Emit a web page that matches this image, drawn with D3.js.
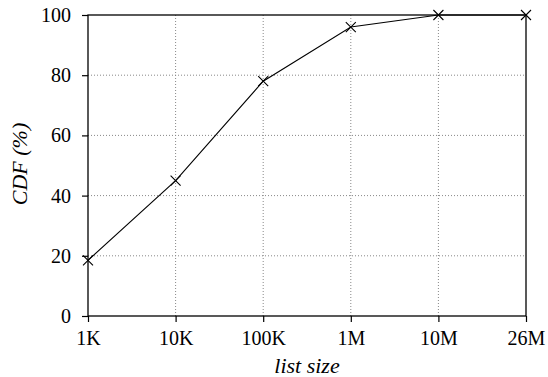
<!DOCTYPE html>
<html><head><meta charset="utf-8">
<script src="https://cdn.jsdelivr.net/npm/d3@7"></script>
<style>body{margin:0;background:#fff}svg{display:block}text{font-family:"Liberation Serif","Times New Roman",serif;fill:#000}</style>
</head><body><svg id="c" width="548" height="377"></svg>
<script>
const categories = ["1K","10K","100K","1M","10M","26M"];
const cdfValues = [18.5, 45, 78, 96, 100, 100];
const yTicks = [0,20,40,60,80,100];

const svg = d3.select("#c");
const m = {l:88, r:22, t:15, b:61};
const W = 548, H = 377;
const x = d3.scalePoint().domain(categories).range([m.l, W-m.r]);
const y = d3.scaleLinear().domain([0,100]).range([H-m.b, m.t]);

// grid
const g = svg.append("g");
g.selectAll("line.vg").data(categories.slice(1,-1)).join("line")
 .attr("x1",d=>x(d)).attr("x2",d=>x(d)).attr("y1",y(0)).attr("y2",y(100))
 .attr("stroke","#888").attr("stroke-width",1).attr("stroke-dasharray","1,2");
g.selectAll("line.hg").data(yTicks.slice(1,-1)).join("line")
 .attr("x1",x(categories[0])).attr("x2",x(categories[categories.length-1])).attr("y1",d=>y(d)).attr("y2",d=>y(d))
 .attr("stroke","#888").attr("stroke-width",1).attr("stroke-dasharray","1,2");

// frame
svg.append("rect").attr("x",m.l).attr("y",m.t).attr("width",W-m.r-m.l).attr("height",H-m.b-m.t)
 .attr("fill","none").attr("stroke","#000").attr("stroke-width",1.3);

// axes
const xa = svg.append("g").attr("transform",`translate(0,${H-m.b})`)
 .call(d3.axisBottom(x).tickSize(6).tickPadding(9));
const ya = svg.append("g").attr("transform",`translate(${m.l},0)`)
 .call(d3.axisLeft(y).tickValues(yTicks).tickSize(6).tickPadding(11));
[xa,ya].forEach(a=>{a.attr("font-family",null);a.select(".domain").remove();a.selectAll("line").attr("stroke","#000").attr("stroke-width",1.2);
 a.selectAll("text").attr("font-size",20).attr("font-family","Liberation Serif");});

// line
const pts = categories.map((c,i)=>[x(c), y(cdfValues[i])]);
svg.append("path").attr("d",d3.line()(pts)).attr("fill","none").attr("stroke","#000").attr("stroke-width",1.1);
const s = 5;
svg.selectAll("path.mk").data(pts).join("path")
 .attr("d",d=>`M${d[0]-s},${d[1]-s}L${d[0]+s},${d[1]+s}M${d[0]-s},${d[1]+s}L${d[0]+s},${d[1]-s}`)
 .attr("stroke","#000").attr("stroke-width",1.1).attr("fill","none");

// labels
svg.append("text").attr("x",(m.l+W-m.r)/2).attr("y",373).attr("text-anchor","middle")
 .attr("font-size",22).attr("font-style","italic").text("list size");
svg.append("text").attr("transform",`translate(27,164) rotate(-90)`).attr("text-anchor","middle")
 .attr("font-size",22).attr("font-style","italic").text("CDF (%)");
</script></body></html>
